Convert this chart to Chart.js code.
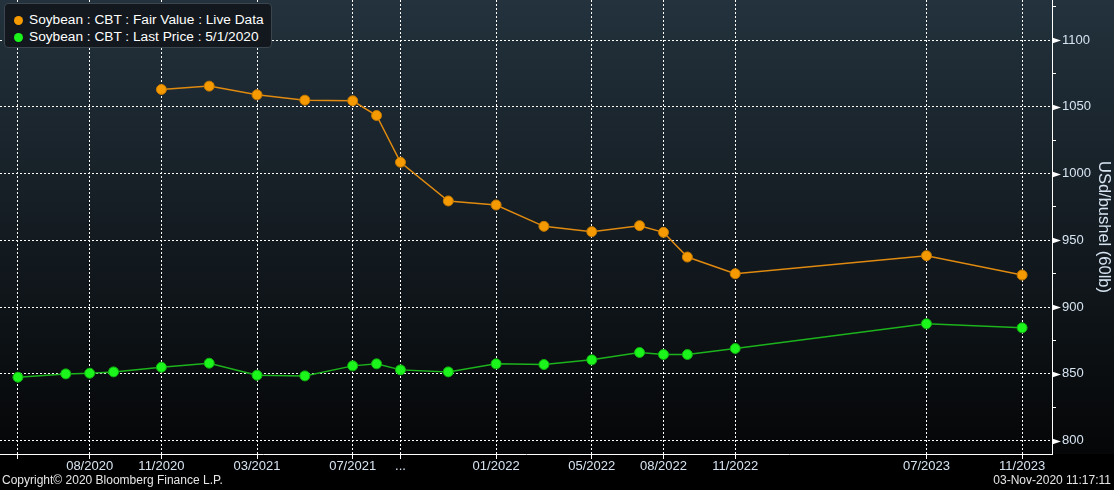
<!DOCTYPE html>
<html>
<head>
<meta charset="utf-8">
<script src="https://cdn.jsdelivr.net/npm/chart.js@4/dist/chart.umd.min.js"></script>
<style>
  html, body { margin: 0; padding: 0; background: #000; }
  #wrap { position: relative; width: 1114px; height: 490px; overflow: hidden; }
  #legend {
    position: absolute; left: 4px; top: 3px; width: 268px; height: 45px;
    box-sizing: border-box; padding: 7px 0 0 9px;
    background: #12181d; border: 1px solid #3a454e; border-radius: 4px;
    font: 13.7px "Liberation Sans", sans-serif; color: #fff; line-height: 17px;
  }
  #legend .dot { display: inline-block; width: 9px; height: 9px; border-radius: 50%; margin-right: 6px; vertical-align: -1px; }
  .foot { position: absolute; top: 473px; font: 12px "Liberation Sans", sans-serif; color: #e6e6e6; }
</style>
</head>
<body>
<div id="wrap">
  <canvas id="chart" width="1114" height="490"></canvas>
  <div id="legend"></div>
  <div class="foot" style="left:2px">Copyright© 2020 Bloomberg Finance L.P.</div>
  <div class="foot" style="right:3px">03-Nov-2020 11:17:11</div>
</div>
<script>
// contract months (MM/YYYY)
const contractMonths = ['05/2020', '07/2020', '08/2020', '09/2020', '11/2020', '01/2021', '03/2021', '05/2021',
  '07/2021', '08/2021', '09/2021', '11/2021', '01/2022', '03/2022', '05/2022', '07/2022', '08/2022',
  '09/2022', '11/2022', '07/2023', '11/2023']
const fairValue = [null, null, null, null, 1063, 1065.5, 1059, 1055, 1054.5, 1043.5, 1008.5, 979.5,
  976.5, 960.5, 956.5, 961, 956, 937.5, 925, 938.5, 924]
const lastPrice = [847.5, 850, 850.5, 851.5, 855, 858, 849, 848.5, 856, 857.5, 853, 851.5,
  857.5, 857, 860.5, 866, 864.5, 864.5, 869, 887.5, 884.5]

// x axis ticks
const tickMonths = ['05/2020', '08/2020', '11/2020', '03/2021', '07/2021', '09/2021', '01/2022',
  '05/2022', '08/2022', '11/2022', '07/2023', '11/2023']
const tickLabels = ['', '08/2020', '11/2020', '03/2021', '07/2021', '...', '01/2022',
  '05/2022', '08/2022', '11/2022', '07/2023', '11/2023']
// y axis ticks (labelled every 50)
const yTicks = [800, 825, 850, 875, 900, 925, 950, 975, 1000, 1025, 1050, 1075, 1100, 1125]

const labelColor = '#d6e4f2'
const font = { family: '"Liberation Sans", sans-serif', size: 13 }

function monthIndex(s) {
  const [m, y] = s.split('/').map(Number)
  return (y - 2020) * 12 + (m - 5)
}

const series = [
  { label: 'Soybean : CBT : Fair Value : Live Data', values: fairValue, line: '#e08a10', point: '#f59a00', edge: '#c47800' },
  { label: 'Soybean : CBT : Last Price : 5/1/2020', values: lastPrice, line: '#1cb41c', point: '#1bf51b', edge: '#10b010' },
]

function noPad(scale) {
  scale.paddingLeft = 0
  scale.paddingRight = 0
  scale.paddingTop = 0
  scale.paddingBottom = 0
}

// background gradient + footer strip
const bgPlugin = {
  id: 'bg',
  beforeDraw(chart) {
    const { ctx, chartArea } = chart
    const g = ctx.createLinearGradient(0, 0, 0, chartArea.bottom)
    g.addColorStop(0, '#23323d')
    g.addColorStop(1, '#050607')
    ctx.save()
    ctx.fillStyle = g
    ctx.fillRect(0, 0, chart.width, chartArea.bottom)
    ctx.fillStyle = '#000'
    ctx.fillRect(0, chartArea.bottom, chart.width, chart.height - chartArea.bottom)
    ctx.restore()
  },
  afterDraw(chart) {
    // arrow marks on the major y ticks
    const { ctx } = chart
    const y = chart.scales.y
    ctx.save()
    ctx.fillStyle = '#fff'
    y.ticks.forEach(t => {
      if (t.value % 50 !== 0) return
      const py = Math.round(y.getPixelForValue(t.value)) + 0.5
      ctx.beginPath()
      ctx.moveTo(y.left, py - 3)
      ctx.lineTo(y.left + 9, py)
      ctx.lineTo(y.left, py + 3)
      ctx.closePath()
      ctx.fill()
    })
    ctx.restore()
  },
}

const chart = new Chart(document.getElementById('chart'), {
  type: 'line',
  data: {
    datasets: series.map(s => ({
      label: s.label,
      data: contractMonths.map((m, i) => ({ x: monthIndex(m), y: s.values[i] })),
      borderColor: s.line,
      borderWidth: 1.5,
      pointRadius: 5,
      pointBackgroundColor: s.point,
      pointBorderColor: s.edge,
      pointBorderWidth: 1,
      tension: 0,
      spanGaps: false,
    })),
  },
  options: {
    responsive: false,
    animation: false,
    layout: { padding: 0, autoPadding: false },
    plugins: { legend: { display: false }, tooltip: { enabled: false } },
    scales: {
      x: {
        type: 'linear',
        min: -0.75,
        max: 43.25,
        afterBuildTicks: scale => {
          scale.ticks = tickMonths.map(m => ({ value: monthIndex(m) }))
        },
        afterFit: scale => { scale.height = 36; noPad(scale) },
        ticks: {
          autoSkip: false,
          maxRotation: 0,
          padding: 0,
          color: labelColor,
          font,
          callback: (v, i) => tickLabels[i],
        },
        grid: { color: '#ffffff', lineWidth: 1, tickColor: '#ffffff', tickLength: 5 },
        border: { color: '#ffffff', width: 1, dash: [2, 2] },
      },
      y: {
        position: 'right',
        min: 790,
        max: 1130,
        afterBuildTicks: scale => {
          scale.ticks = yTicks.map(v => ({ value: v }))
        },
        afterFit: scale => { scale.width = 62; noPad(scale) },
        ticks: {
          padding: 6,
          color: labelColor,
          font,
          callback: v => (v % 50 === 0 ? String(v) : ''),
        },
        grid: {
          color: ctx => (ctx.tick && ctx.tick.value % 50 === 0 ? '#ffffff' : 'rgba(0,0,0,0)'),
          tickColor: '#ffffff',
          tickLength: 4,
        },
        border: { color: '#ffffff', width: 1, dash: [2, 2] },
        title: {
          display: true,
          text: 'USd/bushel (60lb)',
          color: labelColor,
          font: { family: '"Liberation Sans", sans-serif', size: 16.5 },
          padding: { top: 1, bottom: 0 },
        },
      },
    },
  },
  plugins: [bgPlugin],
})

// html legend drawn over the plot
document.getElementById('legend').innerHTML = chart.data.datasets.map((d, i) =>
  `<div><span class="dot" style="background:${series[i].point}"></span>${d.label}</div>`).join('')
</script>
</body>
</html>
